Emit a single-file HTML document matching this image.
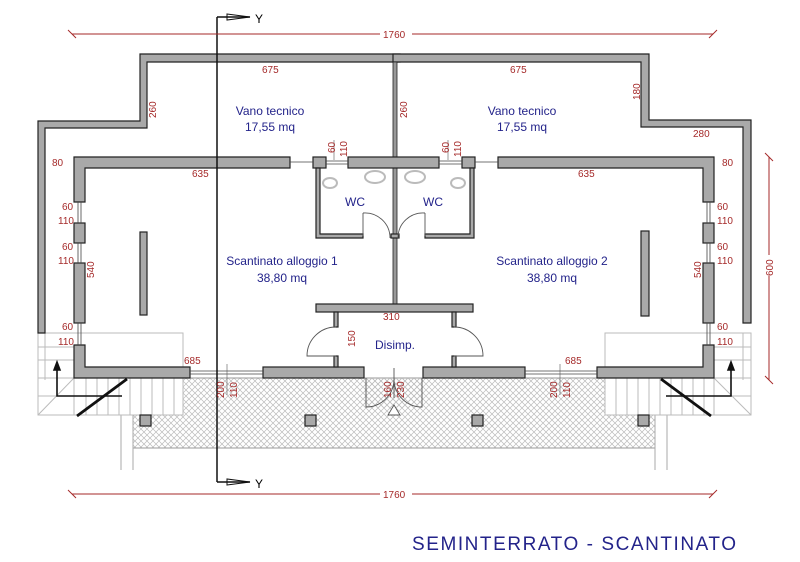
<!DOCTYPE html>
<html><head><meta charset="utf-8"><style>
body{margin:0;background:#fff}
svg{display:block}
.d{font-family:"Liberation Sans",sans-serif;font-size:10px;fill:#a52a2a}
.l{font-family:"Liberation Sans",sans-serif;font-size:12px;fill:#23238a}
.w{fill:#a9a9a9;stroke:#222;stroke-width:1.2}
</style></head><body>
<svg width="800" height="562" viewBox="0 0 800 562" xmlns="http://www.w3.org/2000/svg">
<defs>
<pattern id="h" width="6" height="6" patternUnits="userSpaceOnUse">
<path d="M0 0L6 6M6 0L0 6" stroke="#bbb" stroke-width="0.7"/>
</pattern>
</defs>
<rect x="133" y="378" width="522" height="70" fill="url(#h)" stroke="#999" stroke-width="1"/>
<rect x="364" y="378" width="59" height="30" fill="url(#h)"/>
<g stroke="#aaa" fill="none">
<line x1="121" y1="415" x2="121" y2="470"/><line x1="133" y1="415" x2="133" y2="470"/>
<line x1="655" y1="415" x2="655" y2="470"/><line x1="667" y1="415" x2="667" y2="470"/>
</g>
<g stroke="#bbb" fill="#fff" stroke-width="1">
<rect x="38" y="333" width="145" height="82"/>
<line x1="38" y1="347" x2="74" y2="347"/><line x1="38" y1="360" x2="74" y2="360"/><line x1="38" y1="378" x2="74" y2="378"/>
<line x1="38" y1="396" x2="74" y2="396"/>
<line x1="38" y1="415" x2="74" y2="378"/>
<line x1="74" y1="378" x2="74" y2="415"/>
<line x1="86" y1="378" x2="86" y2="415"/><line x1="97" y1="378" x2="97" y2="415"/><line x1="108" y1="378" x2="108" y2="415"/>
<line x1="119" y1="378" x2="119" y2="415"/><line x1="130" y1="378" x2="130" y2="415"/><line x1="141" y1="378" x2="141" y2="415"/>
<line x1="152" y1="378" x2="152" y2="415"/><line x1="163" y1="378" x2="163" y2="415"/><line x1="174" y1="378" x2="174" y2="415"/>
<line x1="45" y1="333" x2="45" y2="380"/>
</g>
<g stroke="#bbb" fill="#fff" stroke-width="1">
<rect x="605" y="333" width="146" height="82"/>
<line x1="714" y1="347" x2="751" y2="347"/><line x1="714" y1="360" x2="751" y2="360"/><line x1="714" y1="378" x2="751" y2="378"/>
<line x1="714" y1="396" x2="751" y2="396"/>
<line x1="751" y1="415" x2="714" y2="378"/>
<line x1="714" y1="378" x2="714" y2="415"/>
<line x1="616" y1="378" x2="616" y2="415"/><line x1="627" y1="378" x2="627" y2="415"/><line x1="638" y1="378" x2="638" y2="415"/>
<line x1="649" y1="378" x2="649" y2="415"/><line x1="660" y1="378" x2="660" y2="415"/><line x1="671" y1="378" x2="671" y2="415"/>
<line x1="682" y1="378" x2="682" y2="415"/><line x1="693" y1="378" x2="693" y2="415"/><line x1="704" y1="378" x2="704" y2="415"/>
<line x1="743" y1="333" x2="743" y2="380"/>
</g>
<path class="w" d="M140 54H400V62H147V128H45V333H38V121H140Z"/>
<path class="w" d="M393 54H649V120H751V323H743V127H641V62H393Z"/>
<rect x="393" y="62" width="4" height="243" fill="#999" stroke="#222" stroke-width="0.8"/>
<path class="w" d="M74 157H290V168H85V202H74Z"/>
<rect class="w" x="74" y="223" width="11" height="20"/>
<rect class="w" x="74" y="263" width="11" height="60"/>
<path class="w" d="M74 345H85V367H190V378H74Z"/>
<rect class="w" x="263" y="367" width="101" height="11"/>
<rect class="w" x="423" y="367" width="102" height="11"/>
<path class="w" d="M714 345H703V367H597V378H714Z"/>
<rect class="w" x="703" y="263" width="11" height="60"/>
<rect class="w" x="703" y="223" width="11" height="20"/>
<path class="w" d="M498 157H714V202H703V168H498Z"/>
<rect class="w" x="313" y="157" width="13" height="11"/>
<rect class="w" x="348" y="157" width="91" height="11"/>
<rect class="w" x="462" y="157" width="13" height="11"/>
<g stroke="#444" stroke-width="0.8" fill="none">
<line x1="290" y1="162" x2="313" y2="162"/><line x1="326" y1="161" x2="348" y2="161"/><line x1="326" y1="164" x2="348" y2="164"/>
<line x1="439" y1="161" x2="462" y2="161"/><line x1="439" y1="164" x2="462" y2="164"/><line x1="475" y1="162" x2="498" y2="162"/>
<line x1="78" y1="202" x2="78" y2="223"/><line x1="81" y1="202" x2="81" y2="223"/>
<line x1="78" y1="243" x2="78" y2="263"/><line x1="81" y1="243" x2="81" y2="263"/>
<line x1="78" y1="323" x2="78" y2="345"/><line x1="81" y1="323" x2="81" y2="345"/>
<line x1="707" y1="202" x2="707" y2="223"/><line x1="710" y1="202" x2="710" y2="223"/>
<line x1="707" y1="243" x2="707" y2="263"/><line x1="710" y1="243" x2="710" y2="263"/>
<line x1="707" y1="323" x2="707" y2="345"/><line x1="710" y1="323" x2="710" y2="345"/>
<line x1="190" y1="371" x2="263" y2="371"/><line x1="190" y1="374" x2="263" y2="374"/>
<line x1="525" y1="371" x2="597" y2="371"/><line x1="525" y1="374" x2="597" y2="374"/>
</g>
<rect class="w" x="140" y="232" width="7" height="83"/>
<rect class="w" x="641" y="231" width="8" height="85"/>
<path class="w" d="M316 168H320V234H363V238H316Z"/>
<path class="w" d="M474 168H470V234H425V238H474Z"/>
<rect class="w" x="391" y="234" width="8" height="4"/>
<rect class="w" x="316" y="304" width="157" height="8"/>
<rect class="w" x="334" y="312" width="4" height="15"/><rect class="w" x="334" y="356" width="4" height="11"/>
<rect class="w" x="452" y="312" width="4" height="15"/><rect class="w" x="452" y="356" width="4" height="11"/>
<g stroke="#555" fill="none" stroke-width="0.9">
<path d="M363 213A25 25 0 0 1 390 238"/><line x1="363" y1="213" x2="363" y2="236"/>
<path d="M425 213A25 25 0 0 0 398 238"/><line x1="425" y1="213" x2="425" y2="236"/>
<path d="M336 327A29 29 0 0 0 307 356H336"/>
<path d="M454 327A29 29 0 0 1 483 356H454"/>
<path d="M366 378V407A28 28 0 0 0 394 380"/>
<path d="M422 378V407A28 28 0 0 1 394 380"/>
<line x1="394" y1="368" x2="394" y2="398"/>
<path d="M394 405L388 415H400Z" fill="#fff"/>
</g>
<g stroke="#bbb" fill="none" stroke-width="2">
<ellipse cx="330" cy="183" rx="7" ry="5"/><ellipse cx="375" cy="177" rx="10" ry="6"/>
<ellipse cx="415" cy="177" rx="10" ry="6"/><ellipse cx="458" cy="183" rx="7" ry="5"/>
</g>
<rect class="w" x="140" y="415" width="11" height="11"/><rect class="w" x="305" y="415" width="11" height="11"/>
<rect class="w" x="472" y="415" width="11" height="11"/><rect class="w" x="638" y="415" width="11" height="11"/>
<g stroke="#111" fill="none" stroke-width="1.6">
<path d="M122 396H57V368"/><path d="M54 370L57 362L60 370Z" fill="#111"/>
<line x1="77" y1="416" x2="127" y2="379" stroke-width="2.8"/>
<path d="M666 396H731V368"/><path d="M728 370L731 362L734 370Z" fill="#111"/>
<line x1="711" y1="416" x2="661" y2="379" stroke-width="2.8"/>
</g>
<g stroke="#111" fill="none" stroke-width="1.5">
<line x1="217" y1="17" x2="217" y2="482"/><line x1="217" y1="17" x2="250" y2="17"/>
<path d="M227 14L250 17L227 20Z" stroke-width="1"/>
<line x1="217" y1="482" x2="250" y2="482"/><path d="M227 485L250 482L227 479Z" stroke-width="1"/>
</g>
<text x="255" y="23" font-family="Liberation Sans" font-size="12">Y</text>
<text x="255" y="488" font-family="Liberation Sans" font-size="12">Y</text>
<g stroke="#a52a2a" stroke-width="1">
<line x1="72" y1="34" x2="380" y2="34"/><line x1="412" y1="34" x2="713" y2="34"/>
<line x1="68" y1="30" x2="76" y2="38"/><line x1="709" y1="38" x2="717" y2="30"/>
<line x1="72" y1="494" x2="380" y2="494"/><line x1="412" y1="494" x2="713" y2="494"/>
<line x1="68" y1="490" x2="76" y2="498"/><line x1="709" y1="498" x2="717" y2="490"/>
<line x1="769" y1="157" x2="769" y2="255"/><line x1="769" y1="276" x2="769" y2="380"/>
<line x1="765" y1="153" x2="773" y2="161"/><line x1="765" y1="376" x2="773" y2="384"/>
</g>
<g stroke="#555" stroke-width="0.6">
<line x1="334" y1="140" x2="334" y2="160"/><line x1="448" y1="140" x2="448" y2="160"/>
<line x1="227" y1="364" x2="227" y2="395"/><line x1="560" y1="364" x2="560" y2="395"/>
</g>
<g class="d">
<text x="383" y="38">1760</text><text x="383" y="498">1760</text>
<text x="262" y="73">675</text><text x="510" y="73">675</text>
<text x="693" y="137">280</text><text x="52" y="166">80</text><text x="722" y="166">80</text>
<text x="192" y="177">635</text><text x="578" y="177">635</text>
<text x="184" y="364">685</text><text x="565" y="364">685</text>
<text x="383" y="320">310</text>
<text x="62" y="210">60</text><text x="58" y="224">110</text><text x="62" y="250">60</text><text x="58" y="264">110</text>
<text x="62" y="330">60</text><text x="58" y="345">110</text>
<text x="717" y="210">60</text><text x="717" y="224">110</text><text x="717" y="250">60</text><text x="717" y="264">110</text>
<text x="717" y="330">60</text><text x="717" y="345">110</text>
<text transform="translate(156,118) rotate(-90)">260</text>
<text transform="translate(407,118) rotate(-90)">260</text>
<text transform="translate(640,100) rotate(-90)">180</text>
<text transform="translate(94,278) rotate(-90)">540</text>
<text transform="translate(701,278) rotate(-90)">540</text>
<text transform="translate(773,276) rotate(-90)">600</text>
<text transform="translate(355,347) rotate(-90)">150</text>
<text transform="translate(335,153) rotate(-90)">60</text><text transform="translate(347,157) rotate(-90)">110</text>
<text transform="translate(449,153) rotate(-90)">60</text><text transform="translate(461,157) rotate(-90)">110</text>
<text transform="translate(224,398) rotate(-90)">200</text><text transform="translate(237,398) rotate(-90)">110</text>
<text transform="translate(557,398) rotate(-90)">200</text><text transform="translate(570,398) rotate(-90)">110</text>
<text transform="translate(391,398) rotate(-90)">160</text><text transform="translate(404,398) rotate(-90)">230</text>
</g>
<g class="l" text-anchor="middle">
<text x="270" y="115">Vano tecnico</text><text x="270" y="131">17,55 mq</text>
<text x="522" y="115">Vano tecnico</text><text x="522" y="131">17,55 mq</text>
<text x="355" y="206">WC</text><text x="433" y="206">WC</text>
<text x="282" y="265">Scantinato alloggio 1</text><text x="282" y="282">38,80 mq</text>
<text x="552" y="265">Scantinato alloggio 2</text><text x="552" y="282">38,80 mq</text>
<text x="395" y="349">Disimp.</text>
</g>
<text x="412" y="550" font-family="Liberation Sans" font-size="19" fill="#23238a" textLength="324">SEMINTERRATO - SCANTINATO</text>
</svg>
</body></html>
